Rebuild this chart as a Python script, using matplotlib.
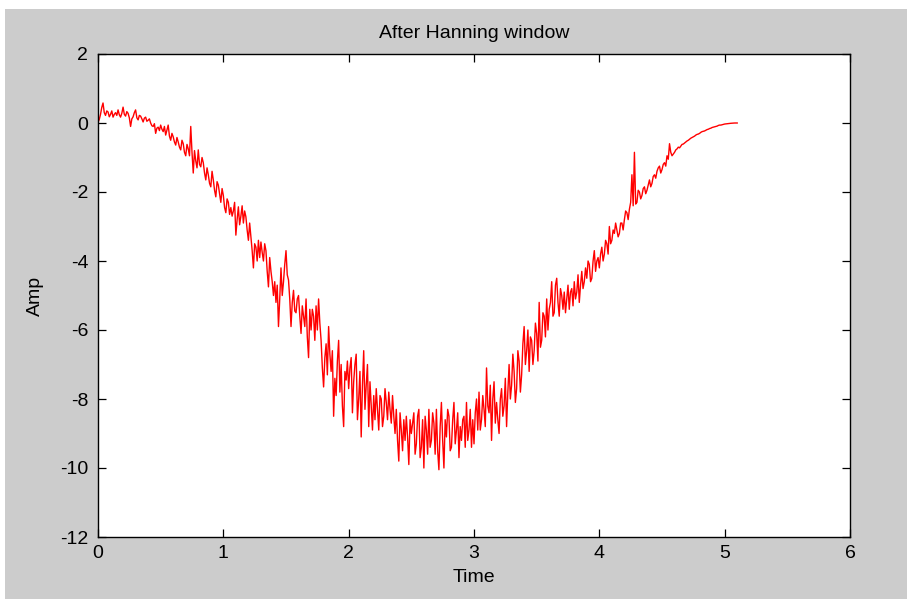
import numpy as np
import matplotlib
matplotlib.use("Agg")
import matplotlib.pyplot as plt
from matplotlib.patches import Rectangle

# ---- data ----
dt = 0.01
# samples at t = 0.00, 0.02, 0.04, ...
amp_even = [
    0.02, 0.25, 0.58, 0.22, 0.32, 0.25, 0.17, 0.30, 0.38, 0.17,
    0.46, 0.20, 0.28, -0.10, 0.18, 0.38, 0.09, 0.20, 0.03, 0.17,
    0.08, 0.00, -0.10, -0.30, -0.12, -0.06, -0.25, -0.35, -0.06, -0.50,
    -0.40, -0.64, -0.55, -0.78, -0.60, -0.95, -0.75, -0.10, -1.45, -1.10,
    -0.78, -1.27, -1.15, -1.65, -1.50, -1.85, -1.65, -2.14, -1.80, -2.30,
    -2.10, -2.60, -2.30, -2.45, -2.55, -3.25, -2.43, -2.70, -2.90, -2.72,
    -3.40, -3.30, -4.20, -3.60, -3.40, -3.45, -4.00, -3.70, -4.75, -4.30,
    -5.00, -5.20, -5.90, -4.20, -4.60, -3.70, -4.55, -5.90, -4.85, -5.50,
    -5.00, -6.10, -5.60, -5.10, -6.80, -6.00, -5.60, -5.30, -5.10, -6.30,
    -7.65, -6.40, -5.90, -7.20, -8.50, -7.90, -6.30, -7.00, -8.80, -7.45,
    -7.70, -6.80, -7.50, -6.70, -8.00, -9.10, -6.60, -7.60, -8.80, -8.20,
    -7.90, -7.70, -8.90, -8.00, -8.50, -8.10, -7.80, -8.70, -8.50, -8.30,
    -9.80, -8.90, -8.60, -8.50, -9.90, -9.00, -8.40, -9.30, -8.30, -9.40,
    -10.00, -8.90, -8.30, -9.20, -8.70, -8.30, -10.05, -8.10, -10.00, -9.10,
    -8.50, -9.40, -8.10, -8.90, -9.70, -9.20, -8.50, -8.10, -8.90, -9.40,
    -9.30, -8.00, -7.80, -8.60, -8.30, -7.10, -8.40, -9.20, -7.50, -8.10,
    -9.00, -7.70, -8.20, -8.80, -7.00, -7.60, -7.20, -7.70, -6.90, -7.30,
    -5.90, -6.60, -7.20, -6.30, -6.60, -6.10, -5.20, -6.30, -5.60, -5.10,
    -5.40, -4.60, -5.50, -4.50, -5.60, -5.00, -4.90, -5.10, -5.40, -4.80,
    -4.60, -4.90, -5.20, -4.30, -4.60, -4.50, -4.10, -4.50, -3.70, -4.00,
    -4.20, -3.60, -3.80, -3.50, -3.00, -3.40, -3.20, -3.10, -3.20, -2.90,
    -2.80, -2.60, -2.50, -1.50, -0.85, -2.30, -2.00, -2.10, -1.85, -1.95,
    -1.65, -1.75, -1.50, -1.40, -1.25, -1.35, -1.15, -0.95, -0.60, -0.95,
    -0.85, -0.75, -0.72, -0.62, -0.58, -0.52, -0.47, -0.42, -0.38, -0.33,
    -0.30, -0.25, -0.23, -0.19, -0.16, -0.13, -0.11, -0.09, -0.06, -0.05,
    -0.03, -0.02, -0.01, -0.005, 0.0, 0.0,
]
# samples at t = 0.01, 0.03, 0.05, ...
amp_odd = [
    0.10, 0.45, 0.30, 0.35, 0.18, 0.35, 0.25, 0.22, 0.24, 0.28,
    0.25, 0.33, 0.15, 0.12, 0.30, 0.15, 0.22, 0.12, 0.14, 0.05,
    0.12, -0.08, -0.02, -0.15, -0.22, -0.18, -0.10, -0.20, -0.38, -0.30,
    -0.55, -0.42, -0.70, -0.50, -0.85, -0.62, -0.95, -0.85, -0.80, -1.30,
    -1.20, -1.00, -1.45, -1.30, -1.75, -1.40, -1.95, -1.70, -2.05, -1.90,
    -2.45, -2.20, -2.65, -2.70, -2.30, -2.80, -2.95, -2.40, -2.55, -3.10,
    -2.90, -3.70, -3.50, -4.00, -3.90, -3.75, -3.50, -4.30, -3.90, -4.60,
    -4.60, -4.70, -5.10, -5.00, -4.10, -4.40, -5.10, -5.20, -5.45, -5.10,
    -5.60, -5.30, -5.90, -6.20, -5.40, -5.40, -6.30, -6.00, -5.80, -7.10,
    -6.80, -7.30, -6.70, -6.60, -7.40, -6.90, -7.80, -8.20, -7.20, -6.90,
    -7.10, -8.40, -7.00, -8.60, -7.20, -7.60, -8.30, -7.00, -7.50, -8.90,
    -8.60, -8.30, -7.90, -8.80, -7.70, -8.60, -8.30, -7.90, -9.00, -9.20,
    -8.40, -9.50, -9.20, -9.10, -8.60, -8.70, -9.60, -8.50, -9.70, -8.60,
    -8.50, -9.60, -9.40, -8.40, -9.60, -9.50, -8.80, -9.20, -8.60, -8.30,
    -9.50, -8.60, -9.30, -8.40, -8.80, -8.60, -9.40, -9.20, -8.30, -8.60,
    -8.40, -8.90, -8.90, -7.90, -8.80, -8.20, -7.60, -8.00, -8.70, -8.60,
    -8.00, -8.50, -7.40, -7.80, -8.00, -6.70, -8.10, -6.60, -7.80, -6.40,
    -7.00, -6.00, -6.20, -7.00, -5.80, -6.90, -6.50, -5.50, -6.20, -6.00,
    -5.20, -5.60, -4.70, -5.20, -4.80, -5.40, -5.50, -4.70, -4.90, -5.30,
    -5.10, -4.40, -4.70, -4.80, -4.20, -4.00, -4.60, -4.00, -4.30, -3.90,
    -3.80, -4.00, -3.40, -3.80, -3.50, -3.10, -2.90, -3.30, -2.90, -3.10,
    -2.55, -2.80, -2.30, -2.40, -2.35, -1.95, -2.20, -1.90, -2.05, -1.80,
    -1.85, -1.55, -1.60, -1.30, -1.45, -1.20, -1.25, -1.05, -0.85, -0.90,
    -0.78, -0.70, -0.67, -0.61, -0.55, -0.50, -0.44, -0.40, -0.35, -0.32,
    -0.27, -0.24, -0.21, -0.18, -0.15, -0.12, -0.10, -0.07, -0.06, -0.04,
    -0.025, -0.015, -0.008, -0.002, 0.0,
]
amp = np.empty(len(amp_even) + len(amp_odd))
amp[0::2] = amp_even
amp[1::2] = amp_odd
time = np.arange(len(amp)) * dt

x_ticks = [0, 1, 2, 3, 4, 5, 6]
y_ticks = [-12, -10, -8, -6, -4, -2, 0, 2]
title = "After Hanning window"
xlabel = "Time"
ylabel = "Amp"

plt.rcParams['font.family'] = ['Liberation Sans', 'DejaVu Sans']
plt.rcParams['axes.unicode_minus'] = False

W, H = 907, 599
fig = plt.figure(figsize=(W / 100, H / 100), dpi=100, facecolor='white')
fig.patches.append(Rectangle((5 / W, 0), 1, (H - 9) / H, transform=fig.transFigure,
                             facecolor='#cccccc', edgecolor='none', zorder=-10))

ax = fig.add_axes([98 / W, (H - 537) / H, 752 / W, 483 / H])
ax.set_zorder(5)
ax.set_facecolor('white')
ax.plot(time, amp, color='#ff0000', lw=1.0)
ax.set_xlim(0, 6)
ax.set_ylim(-12, 2)
ax.set_xticks(x_ticks)
ax.set_yticks(y_ticks)
ax.tick_params(direction='in', length=6, width=0.9, top=True, right=True,
               labelsize=14, colors='black')
ax.tick_params(axis='x', pad=6)
ax.tick_params(axis='y', pad=7)
for s in ax.spines.values():
    s.set_linewidth(1.0)
    s.set_color('black')

ax.text(0.5, (537 - 34) / 483, title, transform=ax.transAxes, ha='center',
        va='center', fontsize=14)
ax.set_xlabel(xlabel, fontsize=14)
ax.xaxis.set_label_coords(0.5, (537 - 578) / 483)
ax.xaxis.label.set_va('center')
ax.set_ylabel(ylabel, fontsize=14)
ax.yaxis.set_label_coords((35 - 98) / 752, 0.5)
ax.yaxis.label.set_va('center')

fig.savefig('out.png', dpi=100, facecolor='white')
